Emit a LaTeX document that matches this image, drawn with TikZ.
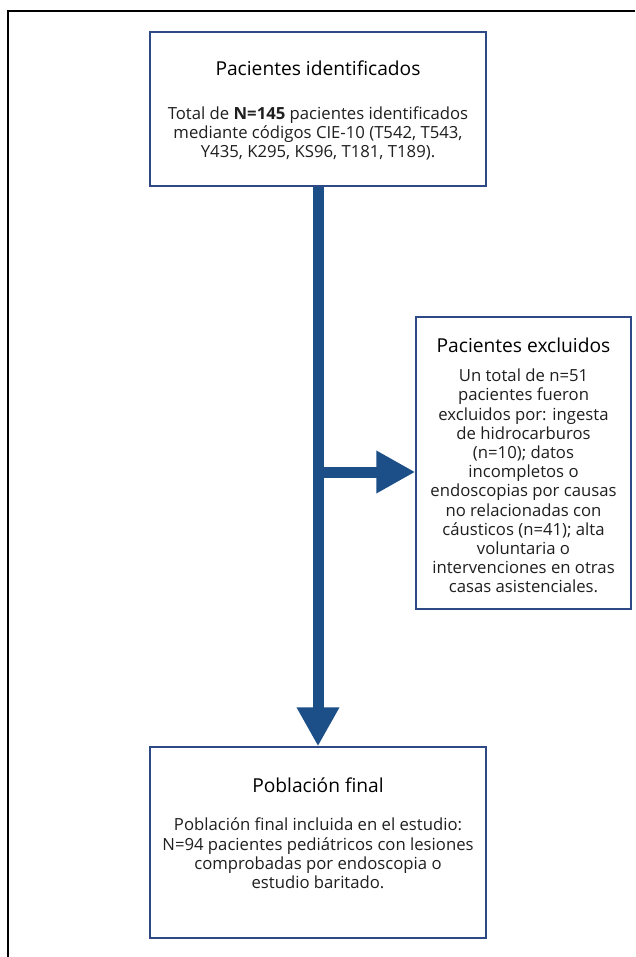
\documentclass[tikz,border=0pt]{standalone}
\usepackage{fontspec}
\setmainfont{Open Sans}
\usepackage{tikz}
\usetikzlibrary{arrows.meta, positioning, calc}
\definecolor{flowblue}{HTML}{1C4F88}
\definecolor{boxblue}{HTML}{2E4A86}

\begin{document}
\begin{tikzpicture}[
  x=1pt, y=-1pt,
  stagebox/.style={rectangle, draw=boxblue, line width=1.4pt, fill=white,
                   inner sep=0pt},
  stagetitle/.style={font=\fontsize{19.2}{23}\selectfont, align=center,
                     inner sep=0pt},
  stagetext/.style={font=\fontsize{16.7}{19.2}\selectfont, align=center,
                    inner sep=0pt, text=black!88},
  flow/.style={-{Triangle[length=39pt, width=40pt]}, line width=11pt,
               draw=flowblue}
]

% === Page frame (only top and left edge visible) ===
\useasboundingbox (0,0) rectangle (635,957);
\draw[line width=2pt] (8,957) -- (8,11) -- (635,11);

% === Boxes ===
\node[stagebox, minimum width=336pt, minimum height=154pt] (ident) at (318,109) {};
\node[stagebox, minimum width=215pt, minimum height=292pt] (excl)  at (523.5,463) {};
\node[stagebox, minimum width=336pt, minimum height=191pt] (final) at (318,842.5) {};

% === Box texts ===
\node[stagetitle] (identT) at (318,68) {Pacientes identificados};
\node[stagetext]  (identB) at (318,133.5)
  {Total de \textbf{N=145} pacientes identificados\\
   mediante códigos CIE-10 (T542, T543,\\
   Y435, K295, KS96, T181, T189).};

\node[stagetitle] (exclT) at (523.5,345) {Pacientes excluidos};
\node[stagetext]  (exclB) at (523.5,481)
  {Un total de n=51\\
   pacientes fueron\\
   excluidos por: ingesta\\
   de hidrocarburos\\
   (n=10); datos\\
   incompletos o\\
   endoscopias por causas\\
   no relacionadas con\\
   cáusticos (n=41); alta\\
   voluntaria o\\
   intervenciones en otras\\
   casas asistenciales.};

\node[stagetitle] (finalT) at (318,785) {Población final};
\node[stagetext]  (finalB) at (318,853.5)
  {Población final incluida en el estudio:\\
   N=94 pacientes pediátricos con lesiones\\
   comprobadas por endoscopia o\\
   estudio baritado.};

% === Connectors ===
\coordinate (branch) at (ident.south |- 0,472);
\draw[flow] (ident.south) -- (final.north);
\draw[flow] (branch) -- (branch -| excl.west);

\end{tikzpicture}
\end{document}
